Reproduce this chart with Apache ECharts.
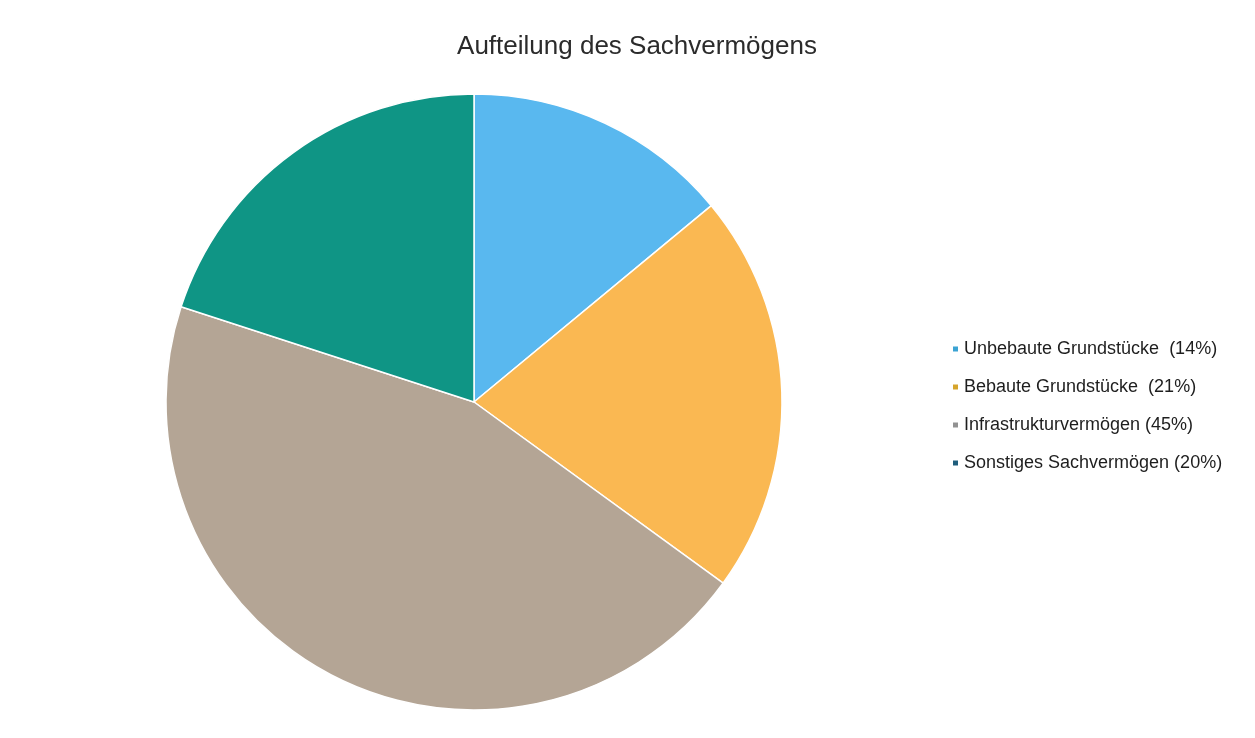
<!DOCTYPE html>
<html>
<head>
<meta charset="utf-8">
<script src="https://cdn.jsdelivr.net/npm/echarts@6/dist/echarts.min.js"></script>
<style>
  html, body { margin: 0; padding: 0; background: #ffffff; }
  #chart { width: 1255px; height: 738px; }
</style>
</head>
<body>
<div id="chart"></div>
<script>
// Anteile des Sachvermögens in Prozent
const categories = ['Unbebaute Grundstücke', 'Bebaute Grundstücke', 'Infrastrukturvermögen', 'Sonstiges Sachvermögen'];
const shares = [14, 21, 45, 20];
const legendLabels = ['Unbebaute Grundstücke  (14%)', 'Bebaute Grundstücke  (21%)', 'Infrastrukturvermögen (45%)', 'Sonstiges Sachvermögen (20%)'];
const sliceColors = ['#59b8ef', '#fab852', '#b4a595', '#0f9585'];
const markerColors = ['#3ba3d3', '#d6a52c', '#929292', '#1f5d7c'];

const FONT = '"Liberation Sans", Arial, sans-serif';

const chart = echarts.init(document.getElementById('chart'), null, { renderer: 'canvas' });

chart.setOption({
  backgroundColor: '#ffffff',
  animation: false,
  title: {
    text: 'Aufteilung des Sachvermögens',
    left: 632,
    top: 29,
    textAlign: 'center',
    textStyle: { fontFamily: FONT, fontSize: 26, fontWeight: 'normal', color: '#2b2b2b' }
  },
  legend: {
    orient: 'vertical',
    left: 946,
    top: 335,
    itemWidth: 7,
    itemHeight: 7,
    itemGap: 20,
    icon: 'rect',
    formatter: function (name) { return legendLabels[categories.indexOf(name)]; },
    textStyle: { fontFamily: FONT, fontSize: 18, color: '#1e1e1e', padding: [0, 0, 0, 0] },
    data: categories.map((c, i) => ({ name: c, itemStyle: { color: markerColors[i] } }))
  },
  series: [{
    type: 'pie',
    center: [474, 402],
    radius: [0, 308],
    startAngle: 90,
    clockwise: true,
    label: { show: false },
    labelLine: { show: false },
    emphasis: { disabled: true },
    itemStyle: { borderColor: '#ffffff', borderWidth: 1.5 },
    data: categories.map((c, i) => ({ name: c, value: shares[i], itemStyle: { color: sliceColors[i] } }))
  }]
});
</script>
</body>
</html>
